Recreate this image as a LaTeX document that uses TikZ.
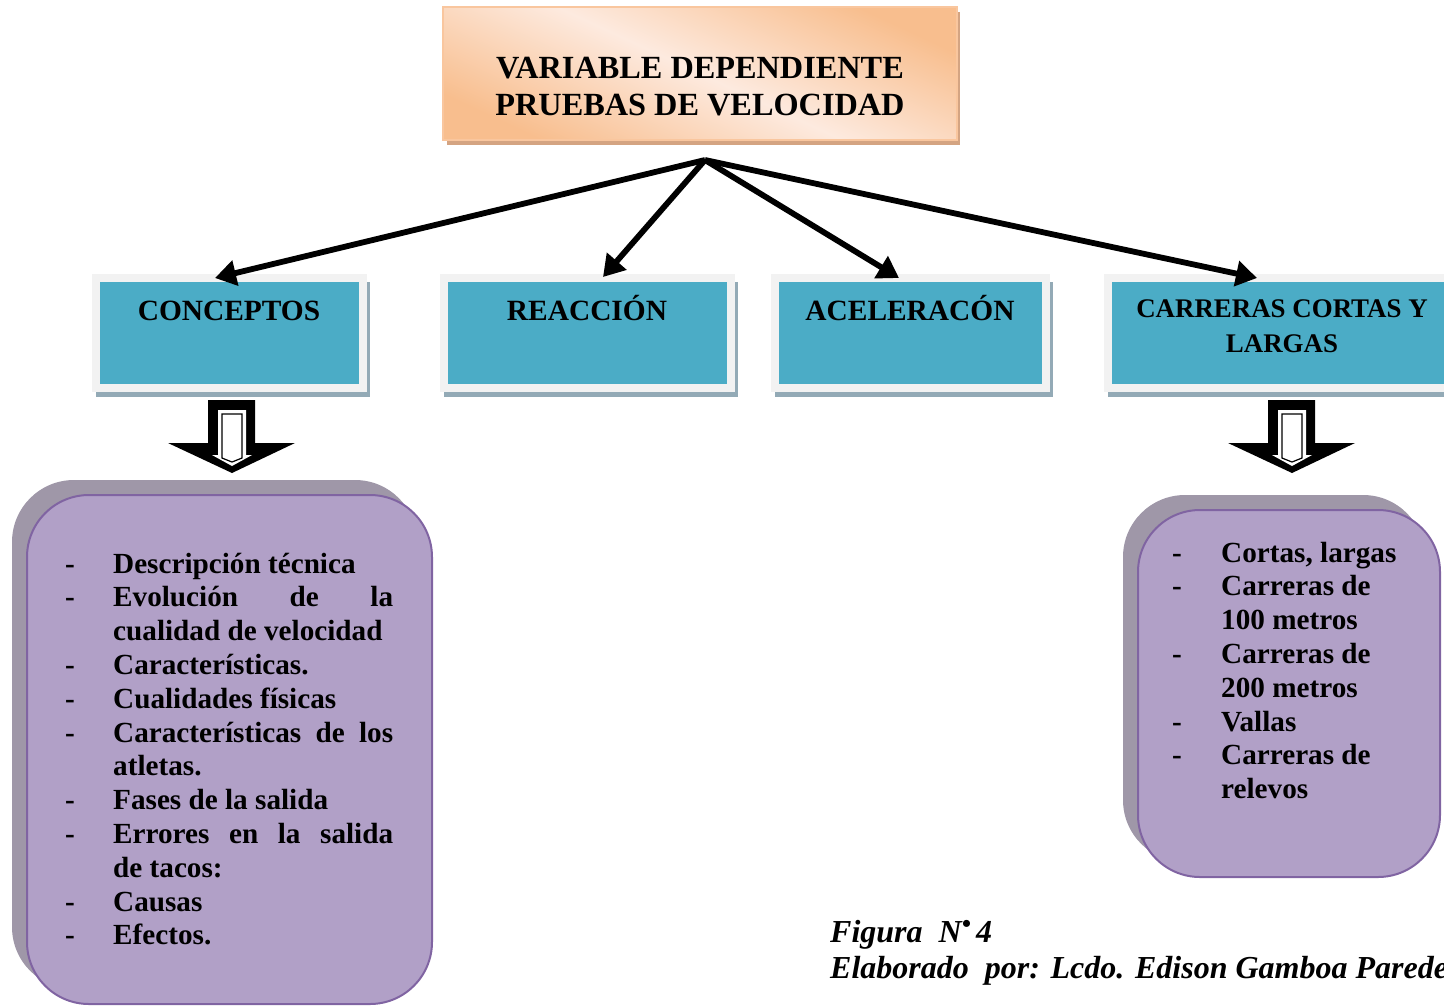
\documentclass[tikz,border=0pt]{standalone}
\usepackage{fontspec}
\setmainfont{Liberation Serif}
\usetikzlibrary{arrows.meta,calc}
\definecolor{blueF}{HTML}{4BACC6}
\definecolor{grayF}{HTML}{F2F2F2}
\definecolor{blueSh}{HTML}{93AAB6}
\definecolor{purF}{HTML}{B1A0C7}
\definecolor{purD}{HTML}{8064A2}
\definecolor{purSh}{HTML}{9F97A8}
\definecolor{orA}{HTML}{F8BE8E}
\definecolor{orL}{HTML}{FDEADF}
\definecolor{orB}{HTML}{F9C69E}
\definecolor{orSh}{HTML}{D4A482}
\newcommand{\lw}{\makebox[280pt][s]}
\tikzset{
  titlebox/.style={draw=orB, line width=2pt, shading=axis, top color=orA, bottom color=orA, middle color=orL, shading angle=-25, minimum width=514pt, minimum height=133pt, inner sep=0pt},
  titletxt/.style={font=\fontsize{32.3}{37}\selectfont\bfseries, align=center, inner sep=0pt},
  bluebox/.style={draw=grayF, line width=8pt, fill=blueF, minimum height=110pt, inner sep=0pt},
  boxtxt/.style={font=\fontsize{29.4}{34}\selectfont\bfseries, inner sep=0pt, anchor=base},
  boxtxtsm/.style={font=\fontsize{26.9}{35}\selectfont\bfseries, inner sep=0pt, anchor=base},
  link/.style={line width=5.8pt, -{Triangle[length=21pt,width=25pt]}},
  purbox/.style={draw=purD, line width=2pt, fill=purF, rounded corners=62pt},
  purshadow/.style={fill=purSh, rounded corners=62pt},
  item/.style={font=\fontsize{29.2}{34}\selectfont\bfseries, inner sep=0pt, anchor=base west},
  dashn/.style={font=\fontsize{29.2}{34}\selectfont\bfseries, inner sep=0pt, anchor=base west},
  captxt/.style={font=\fontsize{32}{36}\selectfont\bfseries\itshape, inner sep=0pt, anchor=base west},
}
\begin{document}
\begin{tikzpicture}[x=1pt,y=-1pt]
\useasboundingbox (0,0) rectangle (1444,1005);
% title
\fill[orSh] (447,12) rectangle (960,145);
\node[titlebox] (title) at (700,73.5) {};
\node[titletxt] (titleT) at (700,86.5) {VARIABLE DEPENDIENTE\\PRUEBAS DE VELOCIDAD};
\coordinate (src) at (705,160);
% blue boxes shadows
\fill[blueSh] (96,282) rectangle (370,397);
\fill[blueSh] (444,282) rectangle (738,397);
\fill[blueSh] (775,282) rectangle (1053,397);
\fill[blueSh] (1108,282) rectangle (1470,397);
\node[bluebox, minimum width=267pt] (b1) at (229.5,333) {};
\node[bluebox, minimum width=287pt] (b2) at (587.5,333) {};
\node[bluebox, minimum width=271pt] (b3) at (910.5,333) {};
\node[bluebox, minimum width=352pt] (b4) at (1284,333) {};
\node[boxtxt] (t1) at (229,320) {CONCEPTOS};
\node[boxtxt] (t2) at (587,320) {REACCIÓN};
\node[boxtxt] (t3) at (910,320) {ACELERACÓN};
\node[boxtxtsm] (t4a) at (1282,317) {CARRERAS CORTAS Y};
\node[boxtxtsm] (t4b) at (1282,352) {LARGAS};
% connectors
\draw[link] (src) -- ($(b1.north)+(-14.5,4)$);
\draw[link] (src) -- ($(b2.north)+(15.5,3)$);
\draw[link] (src) -- ($(b3.north)+(-11.5,4)$);
\draw[link] (src) -- ($(b4.north)+(-27,4)$);
% block arrows
\foreach \dx in {0,1060}{
\begin{scope}[shift={(\dx,0)}]
\fill[black] (208,400) -- (255,400) -- (255,443) -- (295,443) -- (232,473) -- (168,443) -- (208,443) -- cycle;
\fill[white] (218,410) -- (246,410) -- (246,455) -- (252,455) -- (232,466) -- (212,455) -- (218,455) -- cycle;
\draw[black, line width=1.2pt] (222,414) -- (242,414) -- (242,458) -- (232,462) -- (222,458) -- cycle;
\end{scope}}
% purple boxes
\fill[purshadow] (12,480) rectangle (417,989);
\path[purbox] (27,495) rectangle (432,1004);
\fill[purshadow] (1123,495) rectangle (1425,862);
\path[purbox] (1138,510) rectangle (1440,877);
% left list
\foreach \y/\d/\t [count=\i] in {
 0/-/{Descripción técnica},
 1/-/{\lw{Evolución de la}},
 2//{cualidad de velocidad},
 3/-/{Características.},
 4/-/{Cualidades físicas},
 5/-/{\lw{Características de los}},
 6//{atletas.},
 7/-/{Fases de la salida},
 8/-/{\lw{Errores en la salida}},
 9//{de tacos:},
 10/-/{Causas},
 11/-/{Efectos.}}{
 \node[dashn] (LD\i) at (65,573+33.8*\y) {\d};
 \node[item] (LT\i) at (113,573+33.8*\y) {\t};
}
% right list
\foreach \y/\d/\t [count=\i] in {
 0/-/{Cortas, largas},
 1/-/{Carreras de},
 2//{100 metros},
 3/-/{Carreras de},
 4//{200 metros},
 5/-/{Vallas},
 6/-/{Carreras de},
 7//{relevos}}{
 \node[dashn] (RD\i) at (1172,562+33.8*\y) {\d};
 \node[item] (RT\i) at (1221,562+33.8*\y) {\t};
}
% caption
\node[captxt] (cap1) at (830,942) {Figura\ \ N\raisebox{0.3em}{\fontsize{26}{26}\selectfont•}\,4};
\node[captxt] (cap2) at (830,978) {Elaborado\ \ por: Lcdo. Edison Gamboa Paredes};
\end{tikzpicture}
\end{document}
